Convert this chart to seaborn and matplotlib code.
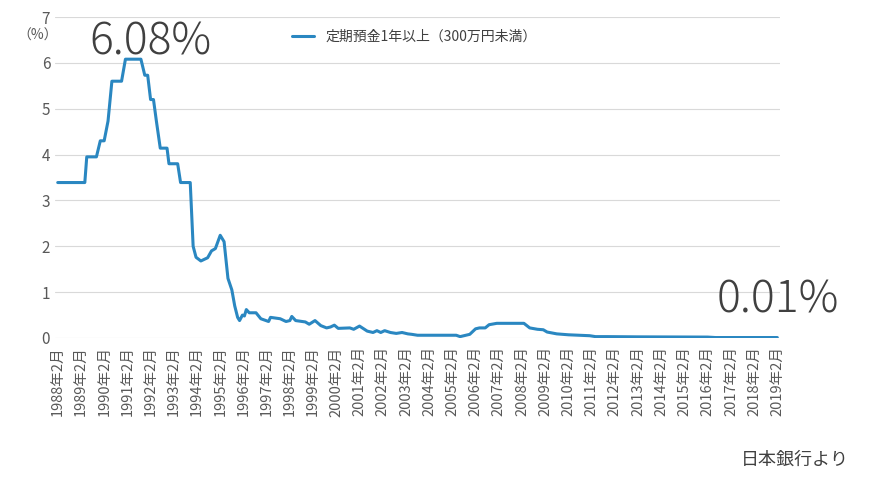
import numpy as np
import pandas as pd
import matplotlib
matplotlib.use("Agg")
import matplotlib.pyplot as plt
import seaborn as sns

# months since 1988-02, and rate (%)
months = [0, 14, 15, 20, 22, 24, 26, 28, 33, 35, 43, 45, 46.5, 48, 49.5, 51, 53, 56.5, 57.5, 62,
          63.5, 68.5, 70, 71.5, 74, 77.5, 79.5, 81.5, 84, 86, 88, 90, 91.5, 93, 94, 95.5, 96.5,
          97.5, 99, 102.5, 105, 109, 110, 115, 118, 120, 121, 123, 128, 130, 133, 136, 139, 141,
          143, 145, 151, 153, 156, 160, 163, 165, 167, 169, 172, 175, 178, 181, 183, 186, 190,
          200, 206, 208, 210, 213, 216, 218, 221, 223, 227, 241, 244, 248, 251, 253, 258, 264,
          275, 278, 284, 300, 336, 340, 372]
rates = [3.39, 3.39, 3.95, 3.95, 4.3, 4.3, 4.73, 5.6, 5.6, 6.08, 6.08, 5.73, 5.73, 5.2, 5.2, 4.73,
         4.14, 4.14, 3.8, 3.8, 3.39, 3.39, 2.0, 1.76, 1.68, 1.75, 1.9, 1.95, 2.24, 2.1, 1.3, 1.05,
         0.7, 0.45, 0.38, 0.5, 0.48, 0.62, 0.55, 0.55, 0.42, 0.36, 0.45, 0.42, 0.36, 0.38, 0.47,
         0.38, 0.35, 0.3, 0.38, 0.27, 0.22, 0.24, 0.28, 0.21, 0.22, 0.19, 0.26, 0.15, 0.12, 0.16,
         0.12, 0.16, 0.12, 0.10, 0.12, 0.09, 0.08, 0.06, 0.06, 0.06, 0.06, 0.03, 0.05, 0.08, 0.2,
         0.22, 0.22, 0.29, 0.32, 0.32, 0.22, 0.19, 0.18, 0.13, 0.09, 0.07, 0.05, 0.03, 0.03,
         0.025, 0.02, 0.01, 0.01]
tick_years = list(range(1988, 2020))
series_name = "定期預金1年以上（300万円未満）"

base = pd.Timestamp("1988-02-01")
dates = [base + pd.Timedelta(days=m * 30.4375) for m in months]
df = pd.DataFrame({"date": dates, "rate": rates, "series": series_name})

sns.set_style("white")
plt.rcParams["font.family"] = ["Noto Sans CJK JP", "DejaVu Sans"]

fig = plt.figure(figsize=(8.78, 4.88), dpi=100)
ax = fig.add_axes([55 / 878, 1 - 338 / 488, (780 - 55) / 878, (338 - 17) / 488])
color = "#2a87c1"
sns.lineplot(data=df, x="date", y="rate", hue="series", palette=[color], linewidth=2.2, ax=ax)

ax.set_ylim(0, 7)
ax.set_yticks(range(0, 8))
ax.yaxis.grid(True, color="#d9d9d9", linewidth=0.8)
ax.xaxis.grid(False)
ticks = [pd.Timestamp(f"{y}-02-01") for y in tick_years]
ax.set_xticks(ticks)
ax.set_xticklabels([f"{y}年2月" for y in tick_years], rotation=90, fontsize=10.5, color="#595959")
ax.set_xlim(pd.Timestamp("1987-12-20"), pd.Timestamp("2019-03-15"))
ax.tick_params(axis="y", labelsize=11, colors="#595959", length=0)
ax.tick_params(axis="x", length=0, pad=6)
for s in ax.spines.values():
    s.set_visible(False)
ax.set_xlabel("")
ax.set_ylabel("")
ax.legend(loc="upper left", bbox_to_anchor=(0.31, 1.0), frameon=False, fontsize=10,
          handlelength=1.6, labelcolor="#404040")

fig.text(38 / 878, 1 - 36 / 488, "（%）", fontsize=10, color="#595959", ha="center", va="center")
fig.text(150 / 878, 1 - 42 / 488, "6.08%", fontsize=32, color="#404040", ha="center", va="center",
         fontweight="light")
fig.text(778 / 878, 1 - 300 / 488, "0.01%", fontsize=32, color="#404040", ha="center", va="center",
         fontweight="light")
fig.text(795 / 878, 1 - 460 / 488, "日本銀行より", fontsize=13, color="#404040", ha="center", va="center")

fig.savefig("out.png", dpi=100)
